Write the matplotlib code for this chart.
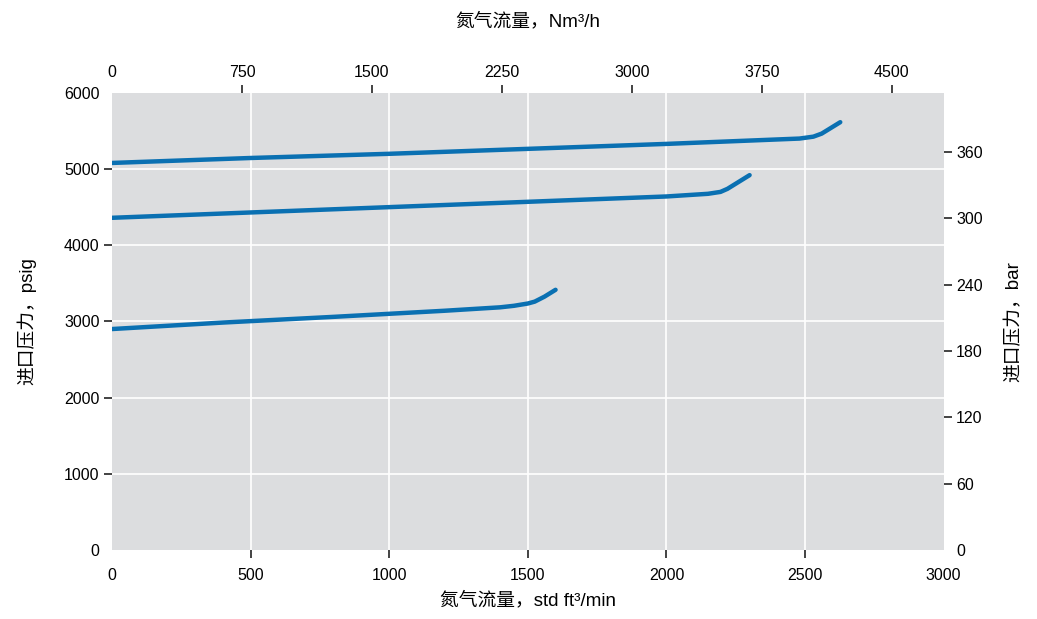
import matplotlib
matplotlib.use("Agg")
import matplotlib.pyplot as plt
import numpy as np

plt.rcParams['font.family'] = ['Liberation Sans', 'Noto Sans CJK SC', 'DejaVu Sans']

# flow in std ft3/min, inlet pressure in psig
flow_low = [0, 400, 800, 1200, 1400, 1450, 1500, 1525, 1560, 1600]
psig_low = [2900, 2985, 3060, 3140, 3185, 3205, 3235, 3260, 3325, 3415]

flow_mid = [0, 500, 1000, 1500, 2000, 2150, 2195, 2220, 2300]
psig_mid = [4360, 4430, 4500, 4570, 4640, 4675, 4700, 4740, 4920]

flow_high = [0, 500, 1000, 1500, 2000, 2480, 2530, 2560, 2627]
psig_high = [5080, 5145, 5200, 5265, 5330, 5400, 5425, 5465, 5615]

x_ticks = [0, 500, 1000, 1500, 2000, 2500, 3000]
y_ticks = [0, 1000, 2000, 3000, 4000, 5000, 6000]
top_ticks = [0, 750, 1500, 2250, 3000, 3750, 4500]
bar_ticks = [0, 60, 120, 180, 240, 300, 360]

SCFM_TO_NM3H = 1.6
PSI_PER_BAR = 14.5038

line_color = '#0a70b2'
bg = '#dcdddf'

fig = plt.figure(figsize=(10.37, 6.19), dpi=100)
ax = fig.add_axes([0.108, 0.1115, 0.802, 0.7385])
ax.set_facecolor(bg)
for s in ax.spines.values():
    s.set_visible(False)

for fx, py in [(flow_low, psig_low), (flow_mid, psig_mid), (flow_high, psig_high)]:
    ax.plot(fx, py, color=line_color, lw=3.2, solid_capstyle='round', solid_joinstyle='round', zorder=3)

ax.set_xlim(0, 3000)
ax.set_ylim(0, 6000)
ax.set_xticks(x_ticks)
ax.set_yticks(y_ticks)
ax.grid(True, color='white', lw=1.2)
ax.set_axisbelow(True)
ax.tick_params(axis='both', labelsize=11.5, length=6, width=1.2, color='#222222', direction='out')
ax.tick_params(axis='x', pad=7)
ax.tick_params(axis='y', pad=3)
for t in [ax.xaxis.get_major_ticks()[0], ax.xaxis.get_major_ticks()[-1],
          ax.yaxis.get_major_ticks()[0], ax.yaxis.get_major_ticks()[-1]]:
    t.tick1line.set_visible(False)
    t.gridline.set_visible(False)

ax.set_xlabel('氮气流量，std ft³/min', fontsize=13.5, labelpad=6)
ax.set_ylabel('进口压力，psig', fontsize=13.5, labelpad=20)

top = ax.secondary_xaxis('top', functions=(lambda x: x * SCFM_TO_NM3H, lambda x: x / SCFM_TO_NM3H))
top.set_xticks(top_ticks)
top.tick_params(labelsize=11.5, length=6, width=1.2, color='#222222', pad=3)
top.spines['top'].set_visible(False)
top.xaxis.get_major_ticks()[0].tick2line.set_visible(False)
top.set_xlabel('氮气流量，Nm³/h', fontsize=13.5, labelpad=28)

right = ax.secondary_yaxis('right', functions=(lambda p: p / PSI_PER_BAR, lambda b: b * PSI_PER_BAR))
right.set_yticks(bar_ticks)
right.tick_params(labelsize=11.5, length=6, width=1.2, color='#222222', pad=3)
right.spines['right'].set_visible(False)
right.yaxis.get_major_ticks()[0].tick2line.set_visible(False)
right.set_ylabel('进口压力，bar', fontsize=13.5, labelpad=16)

fig.savefig('out.png', dpi=100)
